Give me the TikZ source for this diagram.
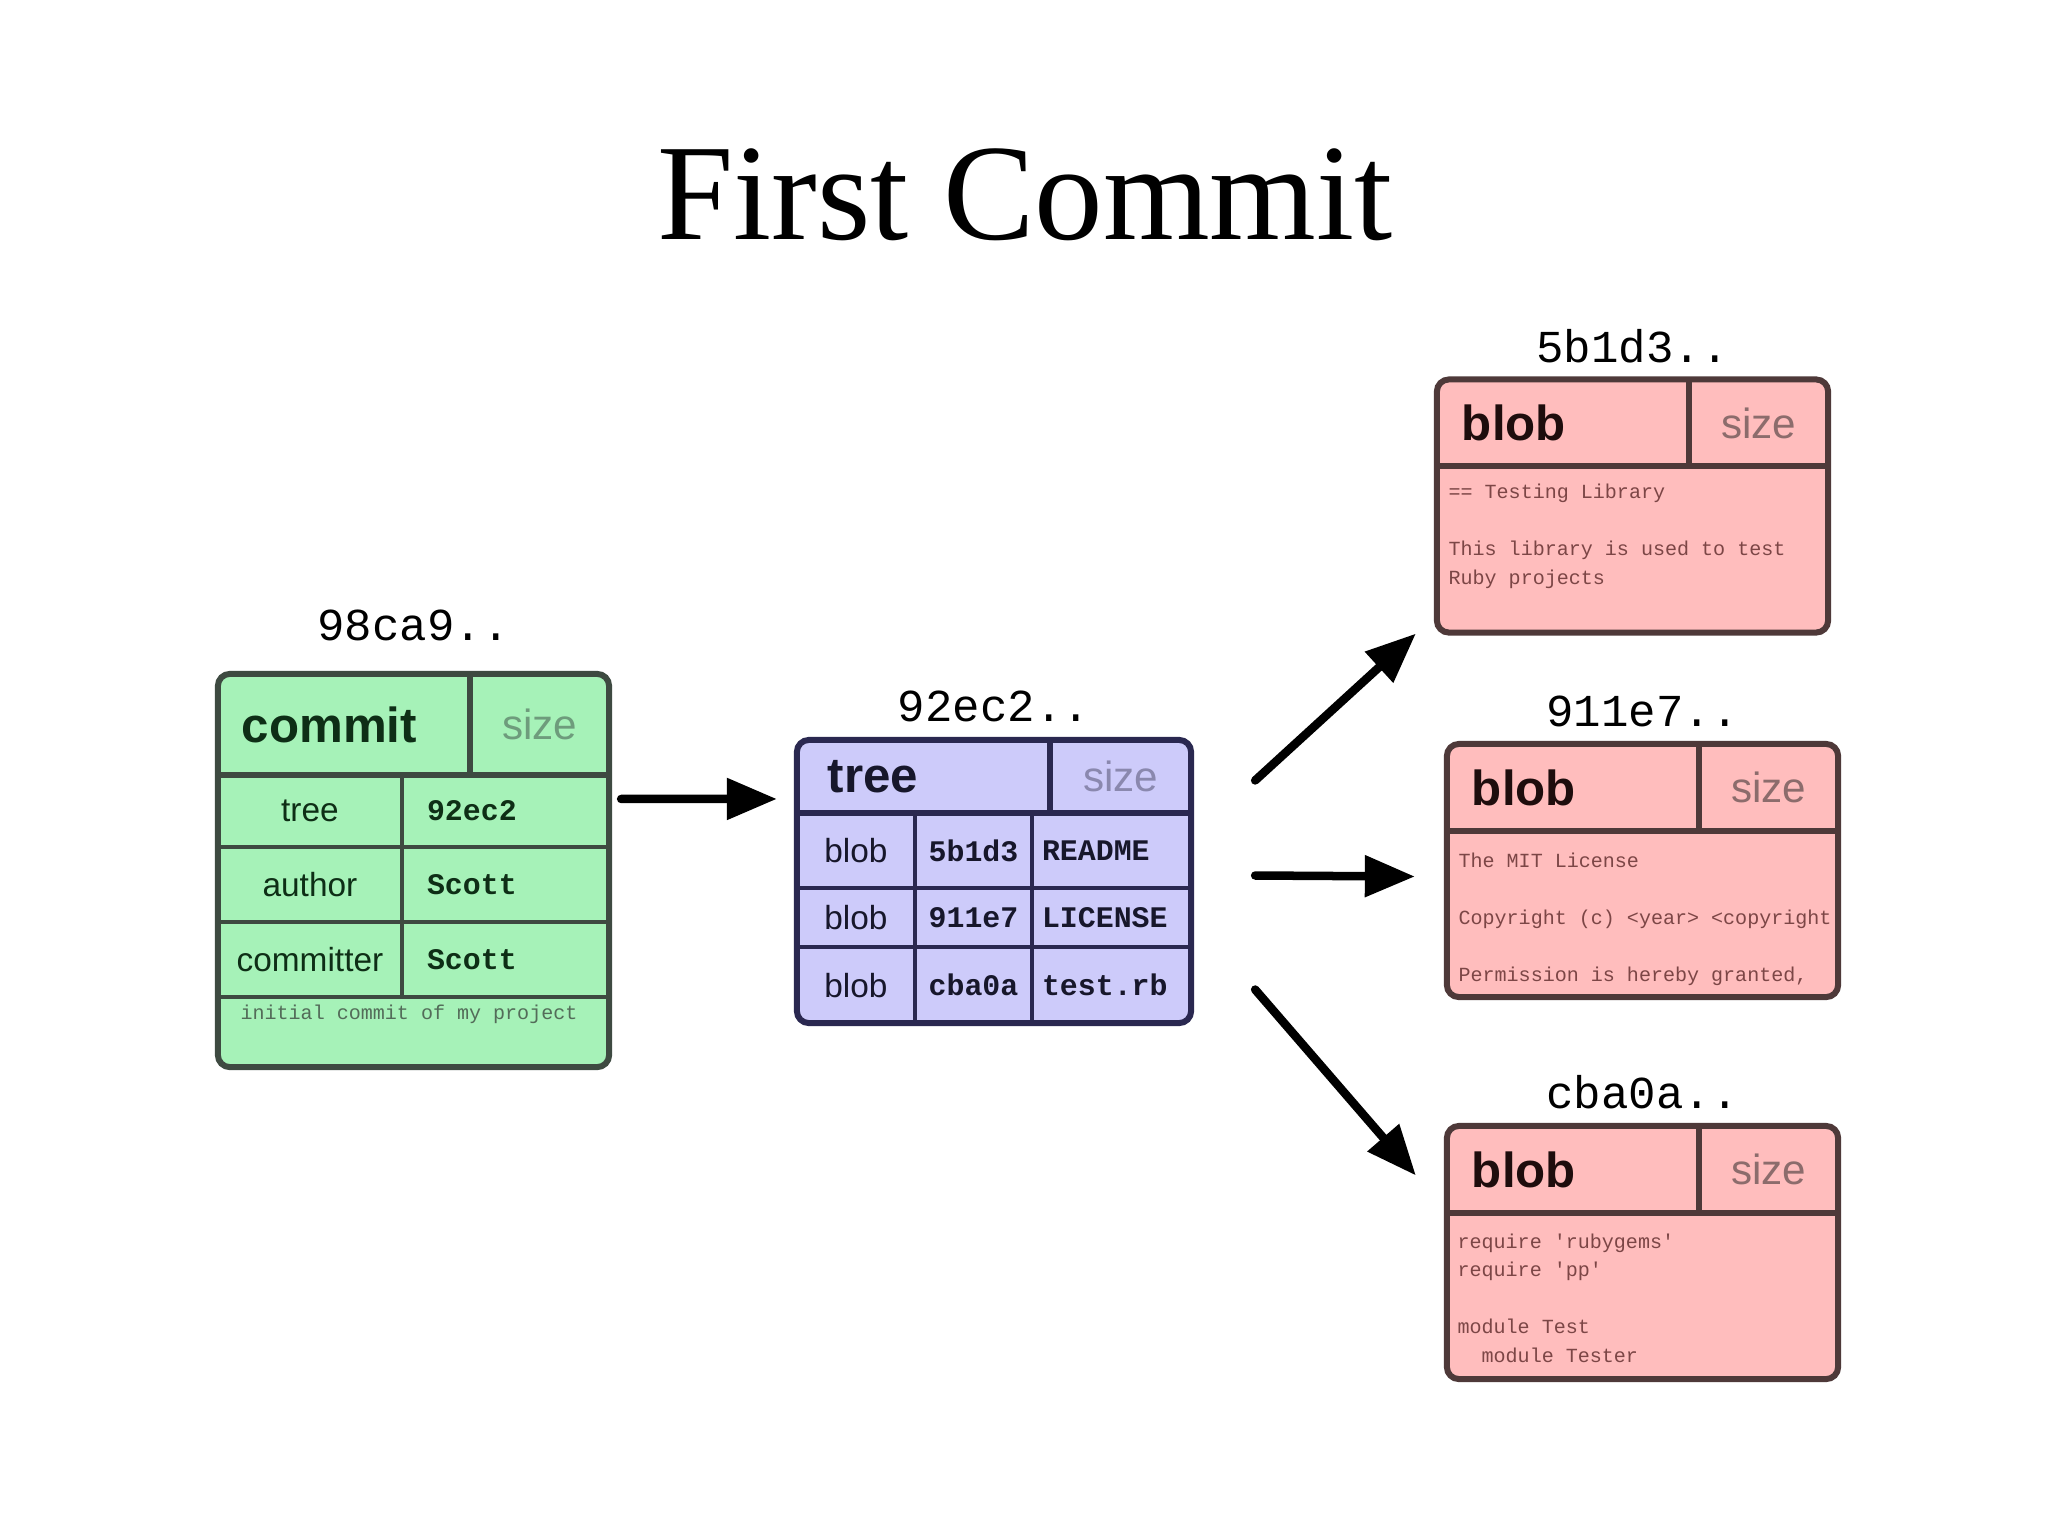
\documentclass[tikz,border=0pt]{standalone}
\usepackage{fontspec}
\setmainfont{Liberation Serif}
\setsansfont{Liberation Sans}
\setmonofont{Liberation Mono}
\usepackage{tikz}
\usetikzlibrary{arrows.meta, positioning}
\definecolor{commitfill}{HTML}{A6F2B8}
\definecolor{commitline}{HTML}{3E4A41}
\definecolor{committext}{HTML}{0E2E16}
\definecolor{commitsize}{HTML}{6E9C7C}
\definecolor{treefill}{HTML}{CDCBFA}
\definecolor{treeline}{HTML}{2A2850}
\definecolor{treetext}{HTML}{17172B}
\definecolor{treesize}{HTML}{8A88AE}
\definecolor{blobfill}{HTML}{FFBDBD}
\definecolor{blobline}{HTML}{4E3939}
\definecolor{blobtext}{HTML}{1E0D0D}
\definecolor{blobsize}{HTML}{8C6C6C}
\definecolor{blobbody}{HTML}{7C4646}

\begin{document}
\begin{tikzpicture}[
  x=0.01cm, y=-0.01cm,
  box/.style={draw, rounded corners=0.12cm, line width=0.06cm, inner sep=0pt, outer sep=0pt},
  cell/.style 2 args={inner sep=0pt, outer sep=0pt, minimum width=#1, minimum height=#2},
  kind/.style={font=\sffamily\bfseries\fontsize{14pt}{16pt}\selectfont, align=left},
  sizelbl/.style={font=\sffamily\fontsize{12pt}{14pt}\selectfont},
  keytxt/.style={font=\sffamily\fontsize{9.5pt}{11pt}\selectfont},
  valtxt/.style={font=\ttfamily\bfseries\fontsize{8.5pt}{10pt}\selectfont},
  bodytxt/.style={font=\ttfamily\fontsize{5.7pt}{8.1pt}\selectfont, align=left, inner sep=0pt, anchor=north west},
  hash/.style={font=\ttfamily\fontsize{13pt}{15pt}\selectfont, inner sep=0pt},
  divheavy/.style={line width=0.06cm},
  divthin/.style={line width=0.04cm},
  arr/.style={line width=0.085cm, line cap=round, -{Triangle[length=0.5cm, width=0.4cm]}},
]
  \useasboundingbox[fill=white] (0,0) rectangle (2048,1536);

  % Title
  \node[font=\fontsize{39pt}{44pt}\selectfont, anchor=base] (title) at (1025, 239) {First Commit};

  % Commit object
  \node[box, fill=commitfill, draw=commitline, minimum width=3.91cm, minimum height=3.93cm] (commit) at (413.5, 870.5) {};
  \node[hash, above=0.32cm of commit] (cmHash) {98ca9..};
  \node[cell={2.52cm}{1.01cm}, kind, text width=2.04cm, inner xsep=0.24cm, anchor=north west, text=committext] (cmH) at (commit.north west) {commit};
  \node[cell={1.39cm}{1.01cm}, sizelbl, text=commitsize, right=0pt of cmH] (cmS) {size};
  \node[cell={1.84cm}{0.72cm}, keytxt, text=committext, anchor=north west] (cmTreeK) at (cmH.south west) {tree};
  \node[cell={2.07cm}{0.72cm}, valtxt, text=committext, text width=1.57cm, inner xsep=0.25cm, right=0pt of cmTreeK] (cmTreeV) {92ec2};
  \node[cell={1.84cm}{0.75cm}, keytxt, text=committext, below=0pt of cmTreeK] (cmAuthK) {author};
  \node[cell={2.07cm}{0.75cm}, valtxt, text=committext, text width=1.57cm, inner xsep=0.25cm, right=0pt of cmAuthK] (cmAuthV) {Scott};
  \node[cell={1.84cm}{0.75cm}, keytxt, text=committext, below=0pt of cmAuthK] (cmCommK) {committer};
  \node[cell={2.07cm}{0.75cm}, valtxt, text=committext, text width=1.57cm, inner xsep=0.25cm, right=0pt of cmCommK] (cmCommV) {Scott};
  \node[bodytxt, text=commitline!80!commitfill] (cmMsg) at ([xshift=0.22cm, yshift=-0.07cm]cmCommK.south west) {initial commit of my project};
  \draw[divheavy, commitline] (cmH.north east) -- (cmH.south east);
  \draw[divheavy, commitline] (cmH.south west) -- (cmS.south east);
  \draw[divthin, commitline] (cmTreeK.north east) -- (cmCommK.south east);
  \draw[divthin, commitline] (cmTreeK.south west) -- (cmTreeV.south east);
  \draw[divthin, commitline] (cmAuthK.south west) -- (cmAuthV.south east);
  \draw[divthin, commitline] (cmCommK.south west) -- (cmCommV.south east);

  % Tree object
  \node[box, fill=treefill, draw=treeline, minimum width=3.94cm, minimum height=2.83cm] (tree) at (994, 881.5) {};
  \node[hash, above=0.17cm of tree] (trHash) {92ec2..};
  \node[cell={2.53cm}{0.73cm}, kind, text width=1.91cm, inner xsep=0.31cm, anchor=north west, text=treetext] (trH) at (tree.north west) {tree};
  \node[cell={1.41cm}{0.73cm}, sizelbl, text=treesize, right=0pt of trH] (trS) {size};
  \node[cell={1.18cm}{0.75cm}, keytxt, text=treetext, anchor=north west] (trK1) at (trH.south west) {blob};
  \node[cell={1.17cm}{0.75cm}, valtxt, text=treetext, right=0pt of trK1] (trV1) {5b1d3};
  \node[cell={1.59cm}{0.75cm}, valtxt, text=treetext, text width=1.39cm, inner xsep=0.1cm, right=0pt of trV1] (trN1) {README};
  \node[cell={1.18cm}{0.59cm}, keytxt, text=treetext, below=0pt of trK1] (trK2) {blob};
  \node[cell={1.17cm}{0.59cm}, valtxt, text=treetext, right=0pt of trK2] (trV2) {911e7};
  \node[cell={1.59cm}{0.59cm}, valtxt, text=treetext, text width=1.39cm, inner xsep=0.1cm, right=0pt of trV2] (trN2) {LICENSE};
  \node[cell={1.18cm}{0.76cm}, keytxt, text=treetext, below=0pt of trK2] (trK3) {blob};
  \node[cell={1.17cm}{0.76cm}, valtxt, text=treetext, right=0pt of trK3] (trV3) {cba0a};
  \node[cell={1.59cm}{0.76cm}, valtxt, text=treetext, text width=1.39cm, inner xsep=0.1cm, right=0pt of trV3] (trN3) {test.rb};
  \draw[divheavy, treeline] (trH.north east) -- (trH.south east);
  \draw[divheavy, treeline] (trH.south west) -- (trS.south east);
  \draw[divthin, treeline] (trK1.north east) -- (trK3.south east);
  \draw[divthin, treeline] (trV1.north east) -- (trV3.south east);
  \draw[divthin, treeline] (trK1.south west) -- (trN1.south east);
  \draw[divthin, treeline] (trK2.south west) -- (trN2.south east);

  % Blob objects
  \node[box, fill=blobfill, draw=blobline, minimum width=3.91cm, minimum height=2.53cm] (readme) at (1632.5, 506) {};
  \node[hash, above=0.16cm of readme] (rdHash) {5b1d3..};
  \node[cell={2.52cm}{0.87cm}, kind, text width=2.02cm, inner xsep=0.25cm, anchor=north west, text=blobtext] (rdH) at (readme.north west) {blob};
  \node[cell={1.39cm}{0.87cm}, sizelbl, text=blobsize, right=0pt of rdH] (rdS) {size};
  \node[bodytxt, text=blobbody] (rdBody) at ([xshift=0.11cm, yshift=-0.17cm]rdH.south west)
    {== Testing Library\\[8.1pt]This library is used to test\\Ruby projects};
  \draw[divheavy, blobline] (rdH.north east) -- (rdH.south east);
  \draw[divheavy, blobline] (rdH.south west) -- (rdS.south east);

  \node[box, fill=blobfill, draw=blobline, minimum width=3.91cm, minimum height=2.53cm] (license) at (1642.5, 870.5) {};
  \node[hash, above=0.16cm of license] (lcHash) {911e7..};
  \node[cell={2.52cm}{0.87cm}, kind, text width=2.02cm, inner xsep=0.25cm, anchor=north west, text=blobtext] (lcH) at (license.north west) {blob};
  \node[cell={1.39cm}{0.87cm}, sizelbl, text=blobsize, right=0pt of lcH] (lcS) {size};
  \begin{scope}
    \clip (lcH.south west) rectangle ([xshift=-0.03cm]license.south east);
    \node[bodytxt, text=blobbody] (lcBody) at ([xshift=0.11cm, yshift=-0.21cm]lcH.south west)
      {The MIT License\\[8.1pt]Copyright (c) <year> <copyright holders>\\[8.1pt]Permission is hereby granted,};
  \end{scope}
  \draw[divheavy, blobline] (lcH.north east) -- (lcH.south east);
  \draw[divheavy, blobline] (lcH.south west) -- (lcS.south east);

  \node[box, fill=blobfill, draw=blobline, minimum width=3.91cm, minimum height=2.53cm] (testrb) at (1642.5, 1252.5) {};
  \node[hash, above=0.16cm of testrb] (tsHash) {cba0a..};
  \node[cell={2.52cm}{0.87cm}, kind, text width=2.02cm, inner xsep=0.25cm, anchor=north west, text=blobtext] (tsH) at (testrb.north west) {blob};
  \node[cell={1.39cm}{0.87cm}, sizelbl, text=blobsize, right=0pt of tsH] (tsS) {size};
  \node[bodytxt, text=blobbody] (tsBody) at ([xshift=0.10cm, yshift=-0.20cm]tsH.south west)
    {require 'rubygems'\\require 'pp'\\[8.1pt]module Test\\\hspace*{1.2em}module Tester};
  \draw[divheavy, blobline] (tsH.north east) -- (tsH.south east);
  \draw[divheavy, blobline] (tsH.south west) -- (tsS.south east);

  % Arrows
  \draw[arr] ([xshift=0.12cm, yshift=0.715cm]commit.east) -- ([xshift=-0.20cm, yshift=0.825cm]tree.west);
  \draw[arr] ([xshift=0.64cm, yshift=1.01cm]tree.east) -- ([xshift=-0.21cm, yshift=-0.01cm]readme.south west);
  \draw[arr] ([xshift=0.64cm, yshift=0.06cm]tree.east) -- ([xshift=-0.32cm, yshift=-0.06cm]license.west);
  \draw[arr] ([xshift=0.64cm, yshift=-1.08cm]tree.east) -- ([xshift=-0.31cm, yshift=0.77cm]testrb.west);
\end{tikzpicture}
\end{document}
